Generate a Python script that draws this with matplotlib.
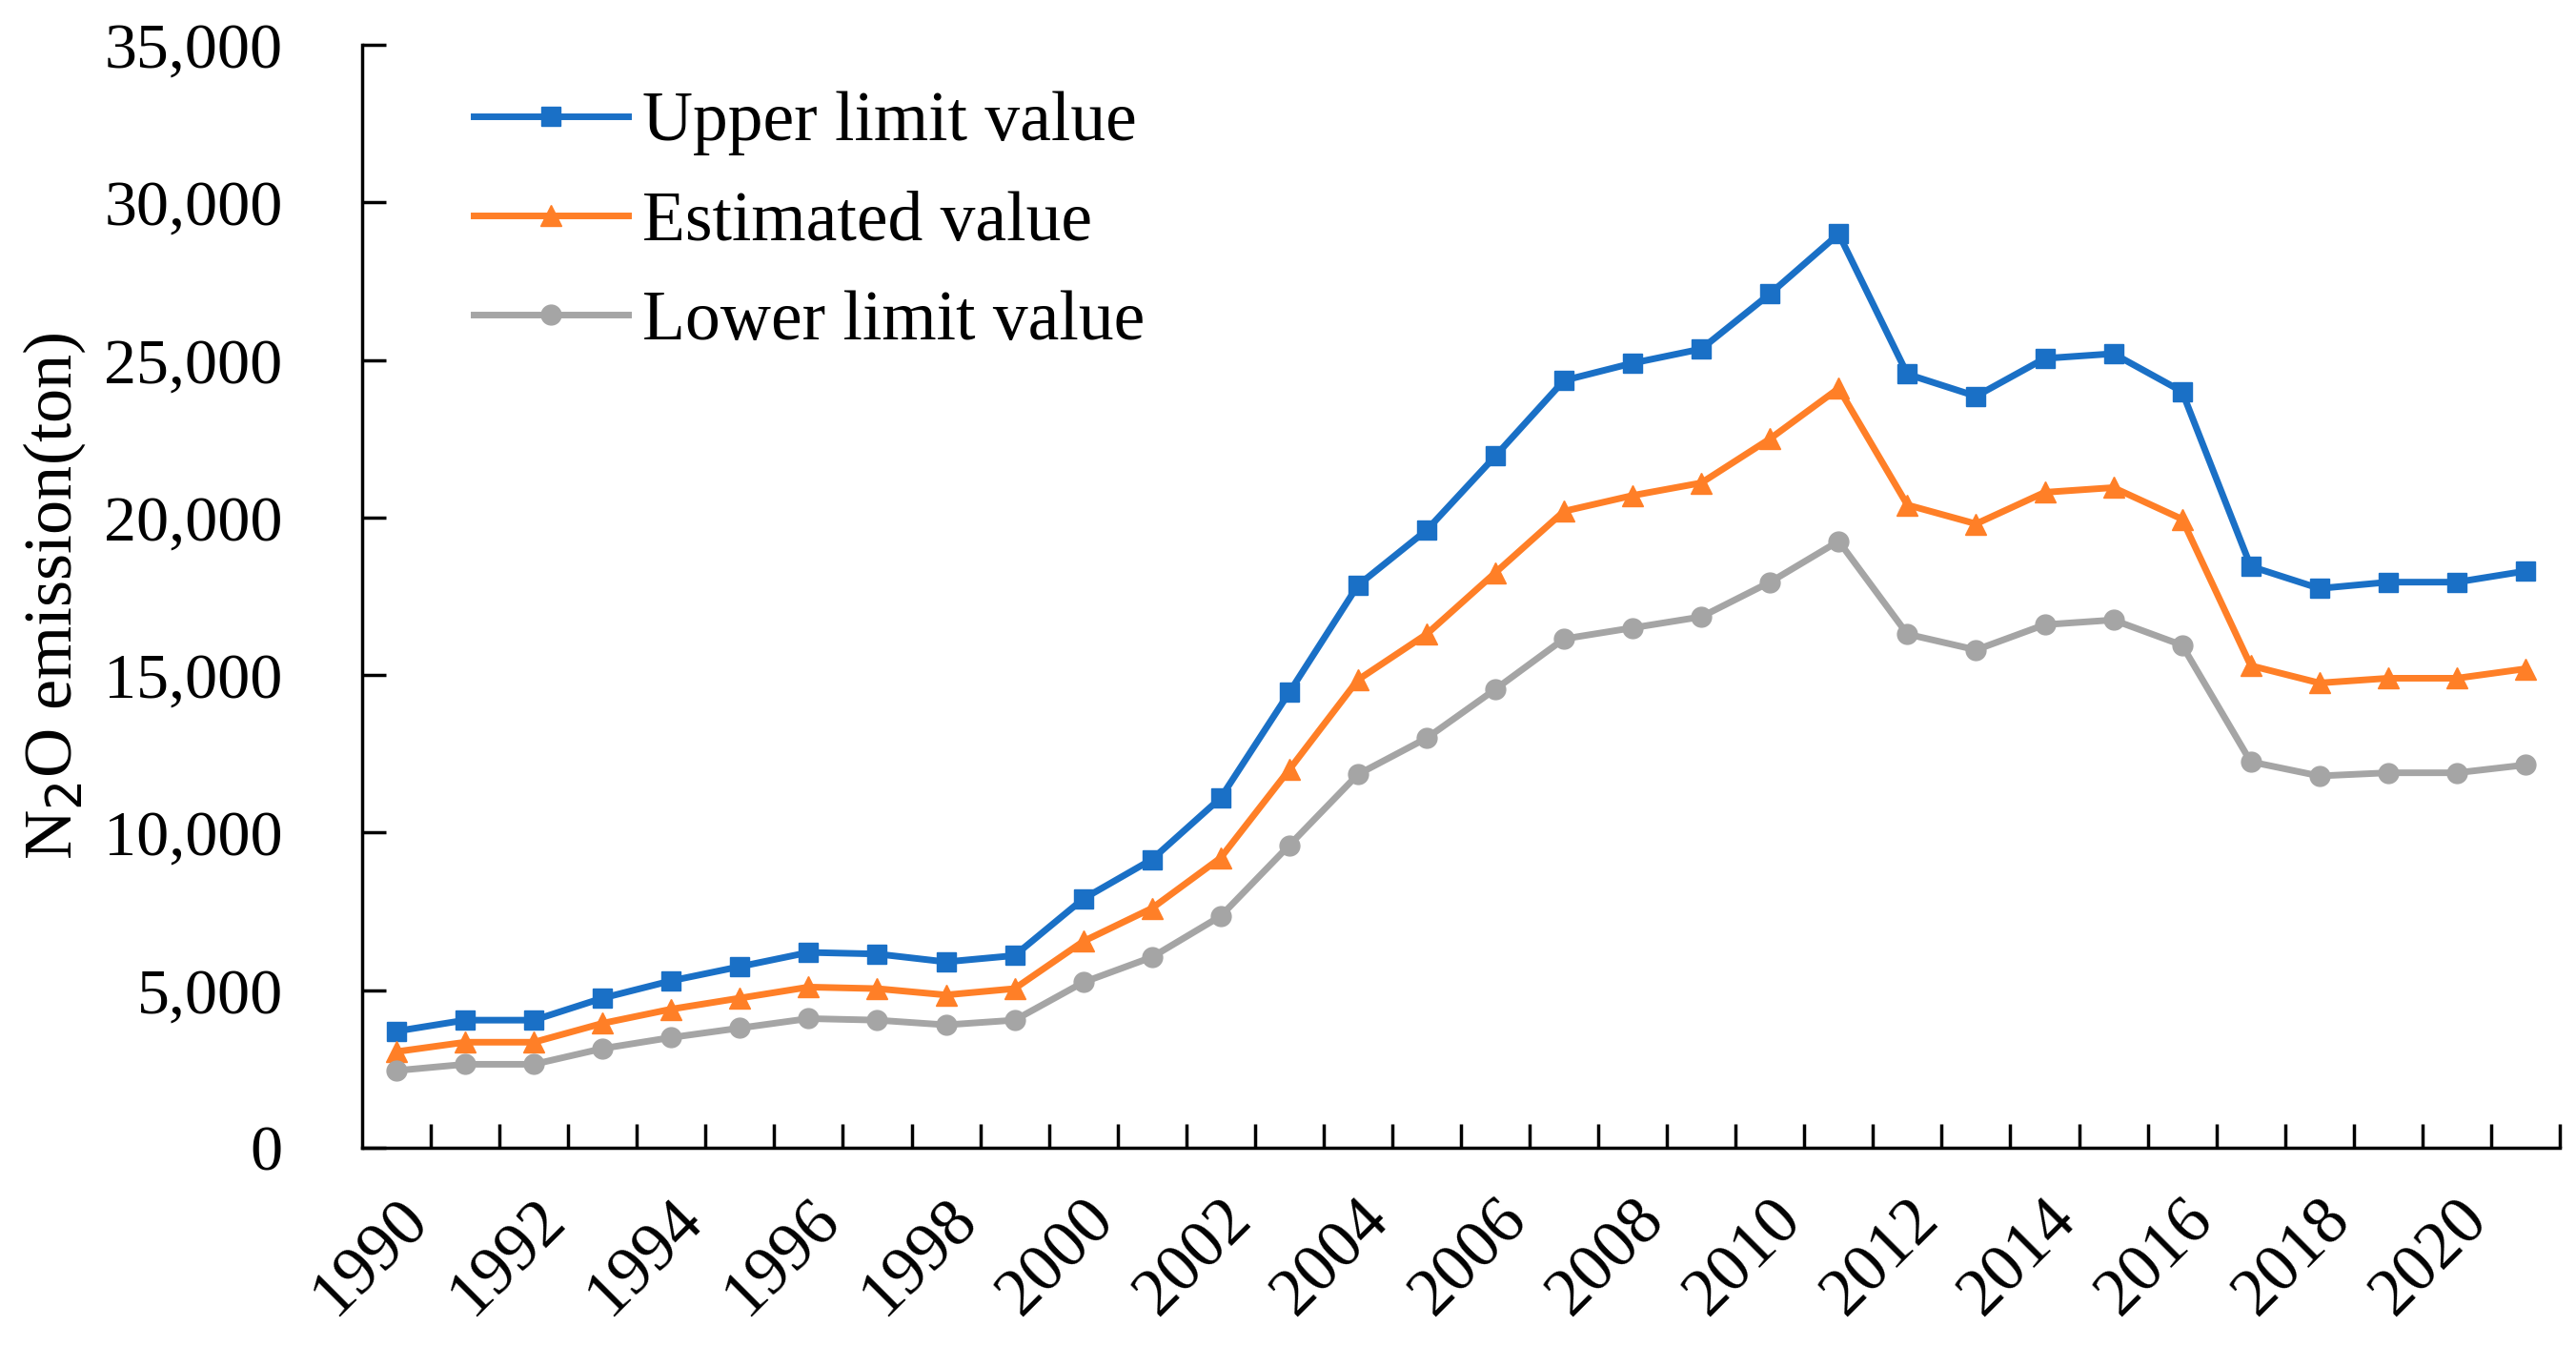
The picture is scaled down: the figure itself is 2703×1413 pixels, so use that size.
import matplotlib
matplotlib.use("Agg")
import matplotlib.pyplot as plt
from matplotlib.ticker import FuncFormatter, FixedLocator

years = list(range(1990, 2022))
upper = [3700, 4050, 4050, 4750, 5300, 5750, 6200, 6150, 5900, 6100,
         7900, 9150, 11100, 14450, 17850, 19600, 21950, 24350, 24900, 25350,
         27100, 29000, 24550, 23850, 25050, 25200, 24000, 18450, 17750, 17950,
         17950, 18300]
estimated = [3050, 3350, 3350, 3950, 4400, 4750, 5100, 5050, 4850, 5050,
             6550, 7600, 9200, 12000, 14850, 16300, 18250, 20200, 20700, 21100,
             22500, 24100, 20400, 19800, 20800, 20950, 19950, 15300, 14750, 14900,
             14900, 15200]
lower = [2450, 2650, 2650, 3150, 3500, 3800, 4100, 4050, 3900, 4050,
         5250, 6050, 7350, 9600, 11850, 13000, 14550, 16150, 16500, 16850,
         17950, 19250, 16300, 15800, 16600, 16750, 15950, 12250, 11800, 11900,
         11900, 12150]
series_names = ["Upper limit value", "Estimated value", "Lower limit value"]
y_ticks = list(range(0, 35001, 5000))

plt.rcParams['font.family'] = ['Liberation Serif', 'DejaVu Serif']

fig = plt.figure(figsize=(27.03, 14.13), dpi=100)
ax = fig.add_axes([0.1406, 0.1479, 0.8531, 0.8188])

x = list(range(len(years)))
lw = 5
ax.plot(x, upper, color='#1A70C6', lw=lw, marker='s', markersize=15, label=series_names[0])
ax.plot(x, estimated, color='#FF7F27', lw=lw, marker='^', markersize=16, label=series_names[1])
ax.plot(x, lower, color='#A5A5A5', lw=lw, marker='o', markersize=15, label=series_names[2])

ax.set_xlim(-0.5, len(years) - 0.5)
ax.set_ylim(0, 35000)

ax.set_xticks(x[::2])
ax.set_xticklabels([str(y) for y in years[::2]], rotation=45, ha='right',
                   rotation_mode='anchor', fontsize=51)
ax.tick_params(axis='x', which='major', length=0, pad=30)
ax.xaxis.set_minor_locator(FixedLocator([i + 0.5 for i in range(len(years))]))
ax.tick_params(axis='x', which='minor', direction='in', length=18, width=2.5)

ax.set_yticks(y_ticks)
ax.yaxis.set_major_formatter(FuncFormatter(lambda v, p: f"{int(v):,}"))
ax.tick_params(axis='y', which='major', direction='in', length=18, width=2.5,
               labelsize=49, pad=60)

for s in ['top', 'right']:
    ax.spines[s].set_visible(False)
for s in ['left', 'bottom']:
    ax.spines[s].set_linewidth(2.5)

ax.set_ylabel("N$_2$O emission(ton)", fontsize=52, labelpad=12)

leg = ax.legend(loc='upper left', bbox_to_anchor=(0.022, 1.015), frameon=False,
                fontsize=53, handlelength=2.2, handletextpad=0.2, labelspacing=0.5)

fig.savefig("out.png", dpi=100)
